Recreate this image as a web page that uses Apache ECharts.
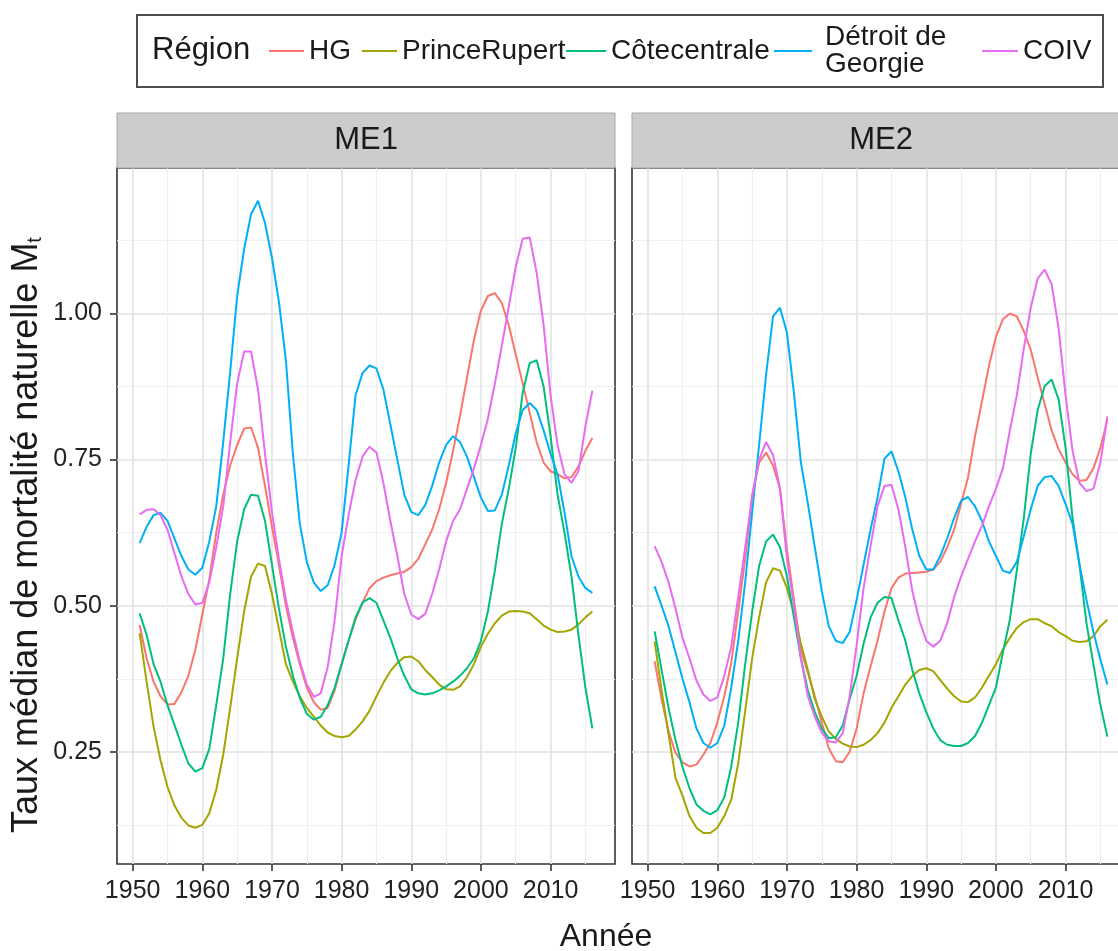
<!DOCTYPE html>
<html>
<head>
<meta charset="utf-8">
<script src="https://cdn.jsdelivr.net/npm/echarts@6/dist/echarts.min.js"></script>
<style>
  html, body { margin: 0; padding: 0; background: #ffffff; }
  #chart { width: 1118px; height: 951px; }
</style>
</head>
<body>
<div id="chart"></div>
<script>
// Years of the smoothed series (one value per year)
const years = [1951,1952,1953,1954,1955,1956,1957,1958,1959,1960,
  1961,1962,1963,1964,1965,1966,1967,1968,1969,1970,
  1971,1972,1973,1974,1975,1976,1977,1978,1979,1980,
  1981,1982,1983,1984,1985,1986,1987,1988,1989,1990,
  1991,1992,1993,1994,1995,1996,1997,1998,1999,2000,
  2001,2002,2003,2004,2005,2006,2007,2008,2009,2010,
  2011,2012,2013,2014,2015,2016];

const regions = ['HG', 'PrinceRupert', 'Côtecentrale', 'Détroit de Georgie', 'COIV'];
const regionLabels = ['HG', 'PrinceRupert', 'Côtecentrale', 'Détroit de\nGeorgie', 'COIV'];
const regionColors = ['#F8766D', '#A3A500', '#00BF7D', '#00B0F6', '#E76BF3'];
const panels = ['ME1', 'ME2'];

// ME1 — median natural mortality by region
const me1HG = [0.467,0.41,0.37,0.345,0.331,0.332,0.352,0.38,0.425,0.485,
  0.545,0.625,0.69,0.74,0.775,0.803,0.805,0.77,0.705,0.635,
  0.57,0.5,0.445,0.4,0.36,0.335,0.322,0.325,0.355,0.4,
  0.44,0.476,0.505,0.53,0.542,0.548,0.552,0.555,0.558,0.566,
  0.58,0.605,0.63,0.665,0.71,0.765,0.825,0.89,0.955,1.005,
  1.03,1.035,1.018,0.98,0.93,0.88,0.83,0.78,0.745,0.73,
  0.725,0.718,0.72,0.738,0.765,0.787];
const me1PrinceRupert = [0.453,0.37,0.293,0.235,0.19,0.158,0.137,0.124,0.12,0.125,
  0.145,0.185,0.245,0.325,0.41,0.49,0.55,0.572,0.568,0.52,
  0.46,0.4,0.37,0.345,0.325,0.31,0.295,0.283,0.277,0.275,
  0.277,0.288,0.302,0.32,0.345,0.368,0.388,0.402,0.412,0.413,
  0.405,0.39,0.378,0.365,0.357,0.356,0.362,0.378,0.4,0.43,
  0.452,0.47,0.483,0.49,0.491,0.49,0.487,0.477,0.466,0.459,
  0.455,0.456,0.459,0.468,0.48,0.49];
const me1Cotecentrale = [0.487,0.45,0.40,0.37,0.33,0.296,0.262,0.23,0.216,0.222,
  0.255,0.33,0.41,0.52,0.61,0.665,0.69,0.688,0.645,0.57,
  0.495,0.43,0.38,0.342,0.315,0.305,0.31,0.33,0.36,0.40,
  0.44,0.48,0.505,0.513,0.505,0.475,0.445,0.41,0.38,0.357,
  0.35,0.348,0.35,0.355,0.362,0.37,0.38,0.393,0.41,0.44,
  0.49,0.56,0.64,0.70,0.77,0.865,0.915,0.92,0.875,0.79,
  0.69,0.625,0.55,0.45,0.36,0.29];
const me1Detroit = [0.607,0.635,0.655,0.659,0.645,0.615,0.585,0.562,0.553,0.565,
  0.61,0.67,0.78,0.9,1.03,1.11,1.17,1.193,1.155,1.095,
  1.02,0.92,0.76,0.64,0.575,0.54,0.525,0.535,0.57,0.625,
  0.74,0.86,0.898,0.911,0.906,0.87,0.81,0.75,0.69,0.66,
  0.655,0.672,0.705,0.745,0.775,0.79,0.78,0.755,0.72,0.685,
  0.662,0.663,0.69,0.74,0.795,0.835,0.847,0.835,0.8,0.76,
  0.725,0.66,0.585,0.55,0.53,0.522];
const me1COIV = [0.656,0.664,0.665,0.655,0.63,0.59,0.55,0.52,0.502,0.505,
  0.54,0.60,0.67,0.78,0.88,0.935,0.935,0.87,0.76,0.66,
  0.58,0.51,0.455,0.405,0.365,0.344,0.35,0.395,0.475,0.585,
  0.655,0.715,0.755,0.772,0.762,0.71,0.645,0.585,0.52,0.485,
  0.477,0.486,0.52,0.562,0.61,0.645,0.665,0.70,0.735,0.775,
  0.82,0.88,0.945,1.012,1.08,1.128,1.13,1.07,0.98,0.86,
  0.775,0.725,0.71,0.73,0.807,0.868];

// ME2 — median natural mortality by region
const me2HG = [0.405,0.34,0.285,0.248,0.232,0.225,0.228,0.245,0.265,0.3,
  0.345,0.402,0.49,0.58,0.69,0.745,0.762,0.74,0.70,0.595,
  0.51,0.425,0.385,0.345,0.30,0.256,0.234,0.232,0.25,0.29,
  0.35,0.396,0.44,0.49,0.53,0.548,0.555,0.556,0.557,0.558,
  0.562,0.575,0.6,0.63,0.675,0.72,0.79,0.85,0.91,0.96,
  0.99,1.0,0.995,0.97,0.938,0.89,0.845,0.8,0.768,0.745,
  0.725,0.714,0.715,0.735,0.77,0.818];
const me2PrinceRupert = [0.439,0.355,0.28,0.205,0.175,0.14,0.12,0.111,0.111,0.12,
  0.14,0.168,0.23,0.32,0.41,0.48,0.54,0.564,0.56,0.53,
  0.487,0.435,0.39,0.34,0.31,0.285,0.272,0.264,0.259,0.258,
  0.262,0.27,0.282,0.3,0.325,0.345,0.365,0.38,0.39,0.393,
  0.388,0.373,0.358,0.345,0.336,0.335,0.343,0.36,0.38,0.4,
  0.425,0.445,0.462,0.472,0.477,0.477,0.47,0.465,0.455,0.448,
  0.44,0.438,0.439,0.448,0.465,0.476];
const me2Cotecentrale = [0.456,0.39,0.325,0.27,0.224,0.188,0.16,0.149,0.143,0.15,
  0.172,0.225,0.30,0.40,0.49,0.568,0.61,0.622,0.60,0.55,
  0.48,0.41,0.355,0.318,0.29,0.273,0.275,0.295,0.34,0.38,
  0.435,0.48,0.505,0.515,0.513,0.475,0.44,0.39,0.35,0.318,
  0.29,0.27,0.262,0.26,0.26,0.265,0.277,0.30,0.33,0.36,
  0.42,0.476,0.56,0.65,0.76,0.835,0.876,0.887,0.853,0.77,
  0.65,0.57,0.47,0.40,0.33,0.276];
const me2Detroit = [0.533,0.50,0.465,0.42,0.375,0.335,0.29,0.265,0.257,0.265,
  0.295,0.36,0.44,0.54,0.66,0.775,0.895,0.995,1.01,0.967,
  0.864,0.745,0.675,0.6,0.525,0.465,0.44,0.436,0.455,0.51,
  0.57,0.63,0.685,0.752,0.764,0.73,0.685,0.63,0.585,0.562,
  0.562,0.585,0.615,0.65,0.68,0.686,0.67,0.645,0.61,0.585,
  0.56,0.556,0.575,0.619,0.665,0.705,0.72,0.722,0.705,0.674,
  0.64,0.57,0.51,0.455,0.408,0.365];
const me2COIV = [0.602,0.575,0.54,0.495,0.445,0.41,0.372,0.348,0.337,0.343,
  0.38,0.43,0.515,0.60,0.685,0.75,0.78,0.758,0.70,0.58,
  0.50,0.41,0.345,0.31,0.283,0.268,0.266,0.282,0.345,0.432,
  0.53,0.602,0.67,0.705,0.707,0.665,0.60,0.525,0.475,0.44,
  0.43,0.44,0.47,0.515,0.55,0.58,0.61,0.637,0.67,0.70,
  0.735,0.80,0.86,0.94,1.01,1.06,1.075,1.05,0.975,0.86,
  0.765,0.71,0.696,0.70,0.745,0.824];

const panelValues = [
  [me1HG, me1PrinceRupert, me1Cotecentrale, me1Detroit, me1COIV],
  [me2HG, me2PrinceRupert, me2Cotecentrale, me2Detroit, me2COIV]
];

// Axis breaks
const xTicks = [1950, 1960, 1970, 1980, 1990, 2000, 2010];
const xMinorTicks = [1955, 1965, 1975, 1985, 1995, 2005, 2015];
const yTicks = [0.25, 0.50, 0.75, 1.00];
const yMinorTicks = [0.125, 0.375, 0.625, 0.875, 1.125];
const xRange = [1947.75, 2019.25];
const yRange = [0.058, 1.249];

const FONT = "'Liberation Sans', Arial, sans-serif";
const TEXT = '#1a1a1a';

// Panel geometry
const panelLeft = [117, 632];
const panelTop = 168;
const panelWidth = 498;
const panelHeight = 696;
const stripTop = 113;
const stripHeight = 55;

const grids = panelLeft.map(left => ({
  left: left, top: panelTop, width: panelWidth, height: panelHeight,
  containLabel: false, outerBoundsMode: 'none',
  show: true, borderColor: '#333333', borderWidth: 1.6, backgroundColor: 'transparent'
}));

const majorLine = { show: true, lineStyle: { color: '#e2e2e2', width: 1.6 } };
const minorLine = { show: true, lineStyle: { color: '#efefef', width: 1.2 } };

const xAxes = [];
const yAxes = [];
panels.forEach((p, g) => {
  xAxes.push({
    type: 'value', gridIndex: g, min: xRange[0], max: xRange[1], position: 'bottom',
    axisLine: { show: false },
    axisTick: { show: true, customValues: xTicks, length: 7, lineStyle: { color: '#333333', width: 1.6 } },
    axisLabel: { show: true, customValues: xTicks, margin: 15, color: '#222222',
      fontSize: 25, fontFamily: FONT, formatter: v => String(v) },
    splitLine: majorLine
  });
  xAxes.push({
    type: 'value', gridIndex: g, min: xRange[0], max: xRange[1], position: 'top',
    axisLine: { show: false },
    axisTick: { show: false, customValues: xMinorTicks },
    axisLabel: { show: false },
    splitLine: minorLine
  });
  yAxes.push({
    type: 'value', gridIndex: g, min: yRange[0], max: yRange[1], position: 'left',
    axisLine: { show: false },
    axisTick: { show: g === 0, customValues: yTicks, length: 7, lineStyle: { color: '#333333', width: 1.6 } },
    axisLabel: { show: g === 0, customValues: yTicks, margin: 15, color: '#222222',
      fontSize: 25, fontFamily: FONT, formatter: v => v.toFixed(2) },
    splitLine: majorLine
  });
  yAxes.push({
    type: 'value', gridIndex: g, min: yRange[0], max: yRange[1], position: 'right',
    axisLine: { show: false },
    axisTick: { show: false, customValues: yMinorTicks },
    axisLabel: { show: false },
    splitLine: minorLine
  });
});

const series = [];
panels.forEach((p, g) => {
  regions.forEach((r, i) => {
    series.push({
      type: 'line', name: r,
      xAxisIndex: g * 2, yAxisIndex: g * 2,
      data: years.map((yr, k) => [yr, panelValues[g][i][k]]),
      showSymbol: false, symbol: 'none', smooth: false, clip: true,
      color: regionColors[i],
      itemStyle: { color: regionColors[i] },
      lineStyle: { color: regionColors[i], width: 2 },
      emphasis: { disabled: true },
      z: 3 + i
    });
  });
});

// One legend block per key so each sits where the boxed legend places it
const legendKeys = [
  { left: 269, width: 35, top: 37, pad: [0, 0, 0, 0], lh: 28 },
  { left: 362, width: 35, top: 37, pad: [0, 0, 0, 0], lh: 28 },
  { left: 566, width: 40, top: 37, pad: [0, 0, 0, 0], lh: 28 },
  { left: 774, width: 38, top: 18, pad: [0, 0, 12, 8], lh: 27 },
  { left: 982, width: 36, top: 37, pad: [0, 0, 0, 0], lh: 28 }
];
const legends = regions.map((r, i) => ({
  data: [{ name: r, itemStyle: { color: regionColors[i], borderWidth: 0 } }],
  left: legendKeys[i].left, top: legendKeys[i].top,
  padding: 0, orient: 'horizontal', icon: 'rect',
  itemWidth: legendKeys[i].width, itemHeight: 2,
  itemStyle: { borderWidth: 0 },
  formatter: () => regionLabels[i],
  textStyle: { fontSize: 28, fontFamily: FONT, color: TEXT,
    lineHeight: legendKeys[i].lh, padding: legendKeys[i].pad }
}));

const graphics = [
  { type: 'rect', shape: { x: 137, y: 15, width: 966, height: 72 },
    style: { fill: 'none', stroke: '#4d4d4d', lineWidth: 2 }, z: 10 },
  { type: 'text', x: 152, y: 50,
    style: { text: 'Région', font: '31px ' + FONT, fill: TEXT, textAlign: 'left', textVerticalAlign: 'middle' }, z: 10 },
  { type: 'text', x: 606, y: 937,
    style: { text: 'Année', font: '32px ' + FONT, fill: TEXT, textAlign: 'center', textVerticalAlign: 'middle' }, z: 10 },
  { type: 'text', x: 27, y: 535, rotation: Math.PI / 2,
    style: {
      text: '{m|Taux médian de mortalité naturelle M}{s|t}',
      fill: TEXT, textAlign: 'center', textVerticalAlign: 'middle',
      rich: {
        m: { fontSize: 36, fontFamily: FONT, fill: TEXT, verticalAlign: 'bottom' },
        s: { fontSize: 20, fontFamily: FONT, fill: TEXT, verticalAlign: 'bottom' }
      }
    }, z: 10 }
];
panels.forEach((p, g) => {
  graphics.push({ type: 'rect', shape: { x: panelLeft[g], y: stripTop, width: panelWidth, height: stripHeight },
    style: { fill: '#cccccc', stroke: '#a8a8a8', lineWidth: 1 }, z: 1 });
  graphics.push({ type: 'text', x: panelLeft[g] + panelWidth / 2, y: stripTop + stripHeight / 2,
    style: { text: p, font: '31px ' + FONT, fill: TEXT, textAlign: 'center', textVerticalAlign: 'middle' }, z: 2 });
});

const chart = echarts.init(document.getElementById('chart'), null, { renderer: 'canvas' });
chart.setOption({
  animation: false,
  backgroundColor: '#ffffff',
  grid: grids,
  xAxis: xAxes,
  yAxis: yAxes,
  legend: legends,
  graphic: graphics,
  series: series
});
</script>
</body>
</html>
